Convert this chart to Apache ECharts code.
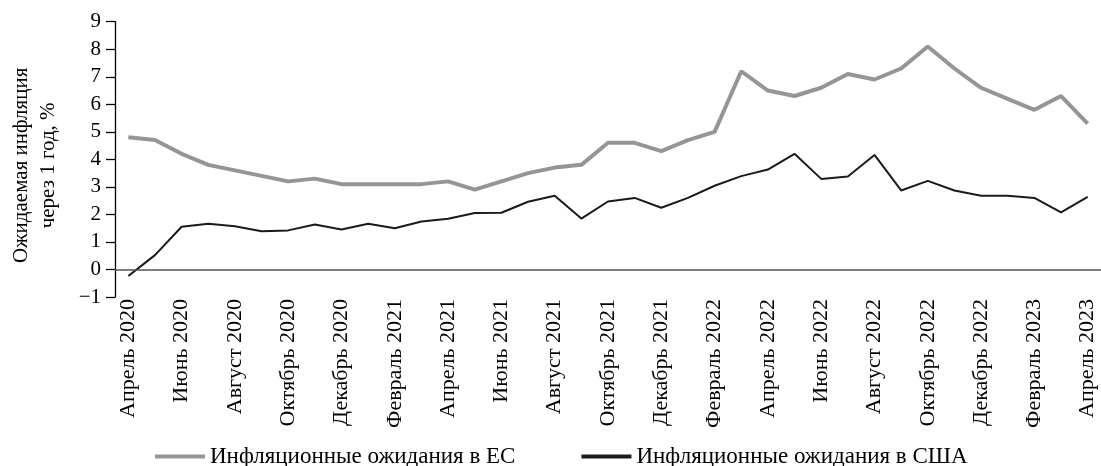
<!DOCTYPE html>
<html>
<head>
<meta charset="utf-8">
<script src="https://cdn.jsdelivr.net/npm/echarts@6/dist/echarts.min.js"></script>
<style>
  html, body { margin: 0; padding: 0; background: #fff; }
  #chart { width: 1101px; height: 466px; }
</style>
</head>
<body>
<div id="chart"></div>
<script>
// месяцы, апрель 2020 – апрель 2023
var months = [
  "Апрель 2020", "Май 2020", "Июнь 2020", "Июль 2020", "Август 2020", "Сентябрь 2020",
  "Октябрь 2020", "Ноябрь 2020", "Декабрь 2020", "Январь 2021", "Февраль 2021", "Март 2021",
  "Апрель 2021", "Май 2021", "Июнь 2021", "Июль 2021", "Август 2021", "Сентябрь 2021",
  "Октябрь 2021", "Ноябрь 2021", "Декабрь 2021", "Январь 2022", "Февраль 2022", "Март 2022",
  "Апрель 2022", "Май 2022", "Июнь 2022", "Июль 2022", "Август 2022", "Сентябрь 2022",
  "Октябрь 2022", "Ноябрь 2022", "Декабрь 2022", "Январь 2023", "Февраль 2023", "Март 2023",
  "Апрель 2023"
];

var euValues = [
  4.8, 4.7, 4.2, 3.8, 3.6, 3.4, 3.2, 3.3, 3.1, 3.1, 3.1, 3.1,
  3.2, 2.9, 3.2, 3.5, 3.7, 3.8, 4.6, 4.6, 4.3, 4.7, 5.0, 7.2,
  6.5, 6.3, 6.6, 7.1, 6.9, 7.3, 8.1, 7.3, 6.6, 6.2, 5.8, 6.3,
  5.3
];

var usValues = [
  -0.24, 0.52, 1.55, 1.66, 1.57, 1.39, 1.42, 1.63, 1.45, 1.66, 1.50, 1.74,
  1.84, 2.05, 2.06, 2.46, 2.68, 1.85, 2.47, 2.60, 2.24, 2.60, 3.04, 3.39,
  3.63, 4.20, 3.29, 3.38, 4.16, 2.87, 3.22, 2.87, 2.68, 2.68, 2.60, 2.07,
  2.64
];

var seriesNames = ["Инфляционные ожидания в ЕС", "Инфляционные ожидания в США"];
var yTitle = "Ожидаемая инфляция\nчерез 1 год, %";

var font = "Liberation Serif";
var chart = echarts.init(document.getElementById("chart"), null, { renderer: "canvas" });

var option = {
  animation: false,
  textStyle: { fontFamily: font, color: "#000" },
  grid: { left: 114, right: 0, top: 21.7, bottom: 169 },
  legend: {
    left: 155,
    top: 445,
    padding: 0,
    icon: "rect",
    itemWidth: 50,
    itemHeight: 4,
    itemGap: 66,
    textStyle: { fontFamily: font, fontSize: 23, color: "#000" },
    data: seriesNames
  },
  xAxis: {
    type: "category",
    data: months,
    boundaryGap: true,
    axisLine: { show: false, onZero: false },
    axisTick: { show: false },
    axisLabel: {
      interval: 1,
      rotate: 90,
      margin: 2,
      fontFamily: font,
      fontSize: 22,
      color: "#000"
    }
  },
  yAxis: {
    type: "value",
    min: -1,
    max: 9,
    interval: 1,
    name: yTitle,
    nameLocation: "middle",
    nameGap: 53,
    nameRotate: 90,
    nameTextStyle: { fontFamily: font, fontSize: 21, lineHeight: 27, color: "#000", padding: [0, 12, 0, 0] },
    axisLine: { show: true, lineStyle: { color: "#000", width: 1.3 } },
    axisTick: { show: true, length: 9, lineStyle: { color: "#000", width: 1.3 } },
    splitLine: { show: false },
    axisLabel: {
      margin: 14,
      fontFamily: font,
      fontSize: 21,
      color: "#000",
      formatter: function (v) { return String(v).replace("-", "\u2212"); }
    }
  },
  series: [
    {
      name: seriesNames[0],
      type: "line",
      data: euValues,
      symbol: "none",
      lineStyle: { color: "#959595", width: 4 },
      itemStyle: { color: "#959595" },
      z: 3
    },
    {
      name: seriesNames[1],
      type: "line",
      data: usValues,
      symbol: "none",
      lineStyle: { color: "#1a1a1a", width: 2 },
      itemStyle: { color: "#1a1a1a" },
      z: 4,
      markLine: {
        silent: true,
        symbol: "none",
        label: { show: false },
        lineStyle: { color: "#555", width: 1.5, type: "solid" },
        data: [{ yAxis: 0 }]
      }
    }
  ]
};

chart.setOption(option);
</script>
</body>
</html>
